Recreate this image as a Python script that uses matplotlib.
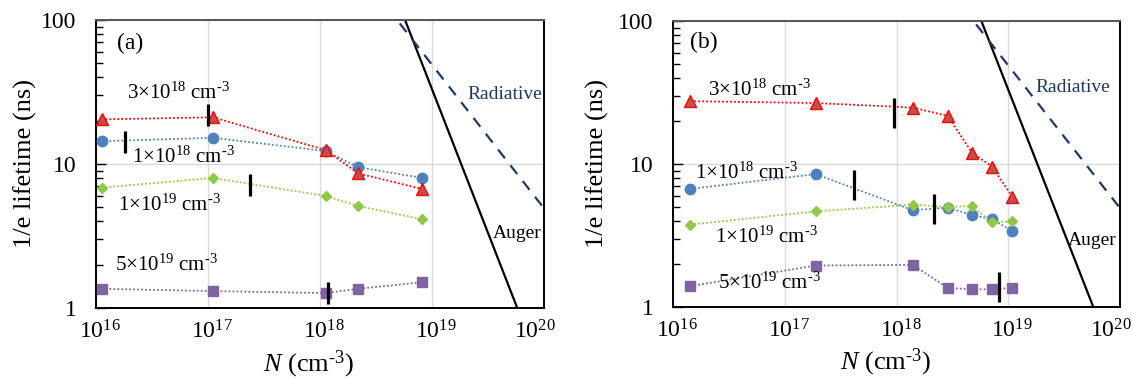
import matplotlib
matplotlib.use("Agg")
import matplotlib.pyplot as plt
from matplotlib.ticker import FixedLocator, LogLocator, NullFormatter, NullLocator
from matplotlib.transforms import ScaledTranslation

plt.rcParams['font.family'] = ['Liberation Serif', 'DejaVu Serif']
plt.rcParams['mathtext.fontset'] = 'custom'
plt.rcParams['mathtext.rm'] = 'Liberation Serif'
plt.rcParams['mathtext.it'] = 'Liberation Serif:italic'
plt.rcParams['mathtext.bf'] = 'Liberation Serif:bold'

# ---------------- data ----------------
x_ticks = [1e16, 1e17, 1e18, 1e19, 1e20]
x_ticklabels = [r'$\mathdefault{10^{16}}$', r'$\mathdefault{10^{17}}$', r'$\mathdefault{10^{18}}$',
                r'$\mathdefault{10^{19}}$', r'$\mathdefault{10^{20}}$']
y_ticks = [1, 10, 100]
y_ticklabels = ['1', '10', '100']

series_labels = [r'3×10$^{18}$ cm$^{\text{-}3}$', r'1×10$^{18}$ cm$^{\text{-}3}$',
                 r'1×10$^{19}$ cm$^{\text{-}3}$', r'5×10$^{19}$ cm$^{\text{-}3}$']

# panel (a)
a_N = [1.12e16, 1.11e17, 1.12e18, 2.2e18, 8.2e18]
a_red = [20.4, 21.1, 12.5, 8.6, 6.7]
a_blue = [14.4, 15.2, 12.3, 9.5, 8.0]
a_green = [6.85, 8.0, 6.0, 5.1, 4.13]
a_purple = [1.36, 1.31, 1.27, 1.36, 1.51]
a_bar_N = [1.01e17, 1.82e16, 2.37e17, 1.17e18]
a_bar_tau = [22.0, 14.3, 7.2, 1.27]

# panel (b)
b_N = [1.43e16, 1.89e17, 1.40e18, 2.87e18, 4.74e18, 7.14e18, 1.09e19]
b_red = [27.5, 26.7, 24.8, 21.7, 12.0, 9.6, 5.9]
b_blue = [6.7, 8.5, 4.75, 4.95, 4.4, 4.1, 3.4]
b_green = [3.77, 4.66, 5.2, 5.0, 5.08, 3.9, 3.98]
b_purple = [1.40, 1.95, 1.97, 1.36, 1.33, 1.33, 1.36]
b_bar_N = [9.5e17, 4.2e17, 2.18e18, 8.26e18]
b_bar_tau = [22.7, 7.15, 4.82, 1.38]

# limit lines (end points)
auger_N = [5e18, 7e19]
auger_tau = [132, 0.68]
radiative_N = [4e18, 1.2e20]
radiative_tau = [122, 4.1]

# ---------------- styles ----------------
RED_F, RED_E = '#C0504D', '#FF0000'
BLUE = '#4F81BD'
GREEN = '#92C84A'
PURPLE = '#8064A2'
NAVY = '#1F3864'

W, H = 1133, 378
fig = plt.figure(figsize=(W / 100, H / 100), dpi=100)

def px_axes(l, t, r, b):
    return fig.add_axes([l / W, 1 - b / H, (r - l) / W, (b - t) / H])

ax_a = px_axes(96, 20, 544, 308)
ax_b = px_axes(673, 21, 1120, 307)

def draw(ax, N, red, blue, green, purple, bar_N, bar_tau, barlen, panel,
         label_pos, rad_pos, aug_pos, ylabel_x, xlabel_x):
    ax.set_xscale('log')
    ax.set_yscale('log')
    ax.set_xlim(1e16, 1e20)
    ax.set_ylim(1, 100)
    ax.grid(True, which='major', color='#D9D9D9', lw=1.0, zorder=0)
    ax.set_axisbelow(True)
    dot = (0, (1, 1.2))
    ax.plot(N, purple, ls=dot, lw=1.3, color=PURPLE, marker='s', ms=7.5,
            mfc=PURPLE, mec=PURPLE, zorder=3)
    ax.plot(N, blue, ls=dot, lw=1.3, color=BLUE, marker='o', ms=7.5,
            mfc=BLUE, mec=BLUE, zorder=3)
    ax.plot(N, green, ls=dot, lw=1.3, color=GREEN, marker='D', ms=5.5,
            mfc=GREEN, mec=GREEN, zorder=4)
    ax.plot(N, red, ls=dot, lw=1.3, color=RED_E, marker='^', ms=8,
            mfc=RED_F, mec=RED_E, mew=1.0, zorder=5)
    ax.plot(bar_N, bar_tau, ls='none', marker='|', ms=barlen, mew=2.3,
            color='black', zorder=6)
    ax.plot(auger_N, auger_tau, color='black', lw=1.6, zorder=2)
    ax.plot(radiative_N, radiative_tau, color=NAVY, lw=1.6,
            ls=(0, (5, 4)), zorder=2)

    ax.xaxis.set_major_locator(FixedLocator(x_ticks))
    ax.set_xticklabels(x_ticklabels)
    ax.xaxis.set_minor_locator(NullLocator())
    ax.yaxis.set_major_locator(FixedLocator(y_ticks))
    ax.set_yticklabels(y_ticklabels)
    ax.yaxis.set_minor_locator(LogLocator(base=10, subs=range(2, 10)))
    ax.yaxis.set_minor_formatter(NullFormatter())
    ax.tick_params(axis='x', which='both', length=0, pad=9, labelsize=17)
    ax.tick_params(axis='y', which='major', direction='in', length=7,
                   width=1.0, pad=14, labelsize=17, left=True, right=False)
    ax.tick_params(axis='y', which='minor', direction='in', length=5,
                   width=1.0, left=True, right=False)
    shifts = [4, 4, 4, 4, -9]
    for tk, dx in zip(ax.xaxis.get_major_ticks(), shifts):
        tk.label1.set_transform(tk.label1.get_transform() +
                                ScaledTranslation(dx / 100, 0, fig.dpi_scale_trans))
    for s in ['left', 'bottom', 'right']:
        ax.spines[s].set_color('black')
        ax.spines[s].set_linewidth(1.4)
    ax.spines['top'].set_color('#555555')
    ax.spines['top'].set_linewidth(1.4)

    ax.set_xlabel(r'$N$ (cm$^{\text{-}3}$)', fontsize=19)
    ax.xaxis.label.set_verticalalignment('center')
    ax.xaxis.set_label_coords(xlabel_x, -0.195)
    ax.set_ylabel('1/e lifetime (ns)', fontsize=19)
    ax.yaxis.set_label_coords(ylabel_x, 0.5)

    for lab, (fx, fy) in zip(series_labels, label_pos):
        ax.text(fx, fy, lab, transform=ax.transAxes, fontsize=15,
                ha='left', va='center', zorder=7)
    ax.text(rad_pos[0], rad_pos[1], 'Radiative', transform=ax.transAxes,
            fontsize=14, color=NAVY, ha='left', va='center')
    ax.text(aug_pos[0], aug_pos[1], 'Auger', transform=ax.transAxes,
            fontsize=14, color='black', ha='left', va='center')
    ax.text(panel[1], panel[2], panel[0], transform=ax.transAxes,
            fontsize=17, ha='left', va='center')

draw(ax_a, a_N, a_red, a_blue, a_green, a_purple, a_bar_N, a_bar_tau, 16,
     ('(a)', 0.047, 0.92),
     [(0.069, 0.747), (0.080, 0.524), (0.049, 0.358), (0.042, 0.149)],
     (0.830, 0.740), (0.886, 0.257), -0.132, 0.475)
draw(ax_b, b_N, b_red, b_blue, b_green, b_purple, b_bar_N, b_bar_tau, 21,
     ('(b)', 0.038, 0.925),
     [(0.078, 0.759), (0.049, 0.469), (0.094, 0.245), (0.101, 0.084)],
     (0.810, 0.766), (0.884, 0.231), -0.143, 0.4765)

fig.savefig('out.png', dpi=100)
